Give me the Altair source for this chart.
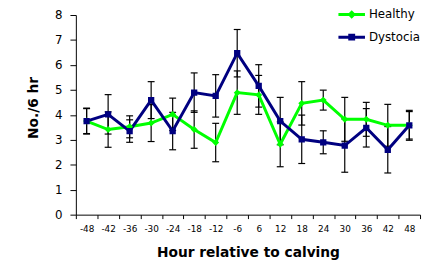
import altair as alt
import pandas as pd

hours = ["-48", "-42", "-36", "-30", "-24", "-18", "-12", "-6",
         "6", "12", "18", "24", "30", "36", "42", "48"]
healthy = [3.75, 3.41, 3.52, 3.67, 4.02, 3.41, 2.89, 4.89,
           4.80, 2.82, 4.46, 4.59, 3.82, 3.82, 3.58, 3.58]
healthy_err = [0.52, 0.71, 0.44, 0.74, 0.65, 0.75, 0.77, 0.87,
               0.78, 0.90, 0.87, 0.40, 0.88, 0.68, 0.84, 0.55]
dystocia = [3.75, 4.02, 3.35, 4.59, 3.35, 4.89, 4.76, 6.47,
            5.16, 3.75, 3.02, 2.90, 2.77, 3.48, 2.60, 3.58]
dystocia_err = [0.50, 0.79, 0.45, 0.74, 0.75, 0.79, 0.85, 0.95,
                0.85, 0.95, 0.97, 0.46, 1.07, 0.77, 0.93, 0.60]
series_names = ["Healthy", "Dystocia"]
series_colors = ["#00FF00", "#000080"]

rows = []
for name, vals, errs in [("Healthy", healthy, healthy_err), ("Dystocia", dystocia, dystocia_err)]:
    for i, (h, v, e) in enumerate(zip(hours, vals, errs)):
        rows.append({"hour": h, "idx": i, "series": name, "value": v,
                     "lo": round(v - e, 3), "hi": round(v + e, 3)})
df = pd.DataFrame(rows)

FONT = "DejaVu Sans"

x_axis = alt.Axis(title="Hour relative to calving", tickBand="extent", labelAngle=0,
                  labelFontSize=9, labelPadding=6, tickSize=4, labelFont=FONT,
                  titleFont=FONT, titleFontSize=14, titleFontWeight="bold",
                  titleBaseline="alphabetic", titleY=43, domainColor="black",
                  tickColor="black", labelColor="black", titleColor="black")
x_enc = alt.X("hour:N", sort=hours, axis=x_axis,
              scale=alt.Scale(paddingInner=0, paddingOuter=0))

y_axis = alt.Axis(title="No./6 hr", values=list(range(9)), grid=False,
                  labelFontSize=12, labelPadding=8, tickSize=6, labelFont=FONT,
                  titleFont=FONT, titleFontSize=14, titleFontWeight="bold",
                  titleAngle=-90, titleBaseline="alphabetic", titleAlign="center",
                  titleX=-39, titleY=94, domainColor="black", tickColor="black",
                  labelColor="black", titleColor="black")
y_scale = alt.Scale(domain=[0, 8], nice=False)

# marker paths with a horizontal segment that only shows when stroked (legend)
path_h = "M-1.35,0L1.35,0M0,-0.22L0.22,0L0,0.22L-0.22,0Z"
path_d = "M-1.35,0L1.35,0M-0.2,-0.2L0.2,-0.2L0.2,0.2L-0.2,0.2Z"

legend = alt.Legend(
    orient="none", legendX=269, legendY=-12, title=None, padding=0,
    symbolSize=400, symbolStrokeWidth=3, symbolOpacity=1, labelFont=FONT,
    labelFontSize=12, labelColor="black", labelOffset=6, rowPadding=3)

color_enc = alt.Color("series:N", scale=alt.Scale(domain=series_names, range=series_colors),
                      legend=legend)
shape_enc = alt.Shape("series:N", scale=alt.Scale(domain=series_names, range=[path_h, path_d]),
                      legend=legend)

base = alt.Chart(df)

err_rules = base.mark_rule(color="black", strokeWidth=1.2, opacity=1).encode(
    x=x_enc, y=alt.Y("lo:Q", scale=y_scale, axis=y_axis), y2="hi:Q")

caps = base.transform_fold(["lo", "hi"], as_=["which", "capv"]).mark_tick(
    color="black", thickness=1.2, size=7, orient="horizontal", opacity=1).encode(
    x=x_enc, y=alt.Y("capv:Q", scale=y_scale, axis=y_axis))

lines = base.mark_line(strokeWidth=3).encode(
    x=x_enc, y=alt.Y("value:Q", scale=y_scale, axis=y_axis), color=color_enc,
    order=alt.Order("idx:Q"))

points = base.mark_point(filled=True, opacity=1, size=1024).encode(
    x=x_enc, y=alt.Y("value:Q", scale=y_scale, axis=y_axis), color=color_enc,
    shape=shape_enc)

chart = alt.layer(err_rules, caps, lines, points).properties(
    width=350, height=203,
    autosize=alt.AutoSizeParams(type="none"),
    padding={"left": 69, "top": 5, "right": 3, "bottom": 46},
    background="white",
).configure_view(stroke=None)

chart.save("out.html", embed_options={"renderer": "svg", "actions": False})
